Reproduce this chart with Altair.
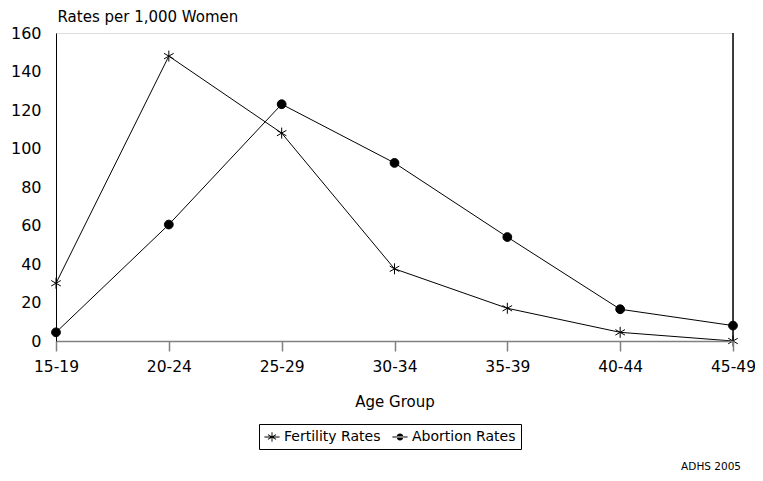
import math
import altair as alt
import pandas as pd

ages = ["15-19", "20-24", "25-29", "30-34", "35-39", "40-44", "45-49"]
fertility = [30, 148, 108, 37.5, 17, 4.5, 0]
abortion = [4.5, 60.5, 123, 92.5, 54, 16.5, 8]
series_names = ["Fertility Rates", "Abortion Rates"]
y_ticks = [0, 20, 40, 60, 80, 100, 120, 140, 160]

rows = []
for a, f, b in zip(ages, fertility, abortion):
    rows.append({"age": a, "series": series_names[0], "rate": f})
    rows.append({"age": a, "series": series_names[1], "rate": b})
df = pd.DataFrame(rows)

W, H = 677, 308
LEFT = 48
FONT = "DejaVu Sans"


def ray(angle_deg, half_len, half_w):
    t = math.radians(angle_deg)
    dx, dy = math.cos(t), math.sin(t)
    nx, ny = -dy, dx
    pts = [
        (half_len * dx + half_w * nx, half_len * dy + half_w * ny),
        (half_len * dx - half_w * nx, half_len * dy - half_w * ny),
        (-half_len * dx - half_w * nx, -half_len * dy - half_w * ny),
        (-half_len * dx + half_w * nx, -half_len * dy + half_w * ny),
    ]
    return "M" + "L".join(f"{px:.3f},{py:.3f}" for px, py in pts) + "Z"


star = "M0,-1L0,1M-0.87,-0.5L0.87,0.5M-0.87,0.5L0.87,-0.5"
dot = "M0.8,0A0.8,0.8 0 1 1 -0.8,0A0.8,0.8 0 1 1 0.8,0Z"
leg_line = ray(0, 1.0, 0.05)
leg_star = leg_line + ray(90, 0.62, 0.06) + ray(30, 0.62, 0.06) + ray(150, 0.62, 0.06)
leg_dot = leg_line + "M0.45,0A0.45,0.45 0 1 1 -0.45,0A0.45,0.45 0 1 1 0.45,0Z"

x = alt.X(
    "age:N",
    sort=ages,
    scale=alt.Scale(type="point", padding=0),
    axis=alt.Axis(
        title="Age Group",
        labelAngle=0,
        domainColor="#808080",
        domainWidth=1.5,
        tickColor="#808080",
        tickWidth=1.5,
        tickSize=10,
        labelPadding=8,
        labelFont=FONT,
        labelFontSize=15.5,
        labelColor="black",
        titleFont=FONT,
        titleFontSize=15,
        titleFontWeight="normal",
        titleColor="black",
        titlePadding=20,
        zindex=1,
    ),
)
y = alt.Y(
    "rate:Q",
    scale=alt.Scale(domain=[0, 160]),
    axis=alt.Axis(
        values=y_ticks,
        grid=False,
        tickSize=0,
        domainColor="black",
        domainWidth=1,
        labelPadding=15,
        labelFont=FONT,
        labelFontSize=16,
        labelColor="black",
        title="Rates per 1,000 Women",
        titleAngle=0,
        titleX=1,
        titleY=-12,
        titleAlign="left",
        titleBaseline="alphabetic",
        titleFont=FONT,
        titleFontSize=15,
        titleFontWeight="normal",
        titleColor="black",
        zindex=1,
    ),
)

base = alt.Chart(df)

lines = base.mark_line(color="black", strokeWidth=1).encode(
    x=x, y=y, detail="series:N"
)

fert_pts = base.transform_filter(alt.datum.series == series_names[0]).mark_point(
    shape=star, filled=False, stroke="black", strokeWidth=1, opacity=1, size=121
).encode(x=x, y=y)

abort_pts = base.transform_filter(alt.datum.series == series_names[1]).mark_point(
    shape=dot, filled=True, fill="black", stroke="black", strokeWidth=1, opacity=1, size=121
).encode(x=x, y=y)

legend_layer = base.mark_point(
    filled=True, color="black", size=0
).encode(
    x=x,
    y=y,
    shape=alt.Shape(
        "series:N",
        scale=alt.Scale(domain=series_names, range=[leg_star, leg_dot]),
        legend=alt.Legend(
            title=None,
            orient="none",
            legendX=259 - 8 - LEFT,
            legendY=391,
            direction="horizontal",
            strokeColor="black",
            fillColor="white",
            padding=5,
            labelFont=FONT,
            labelFontSize=14,
            labelColor="black",
            labelOffset=4,
            columnPadding=11,
            symbolSize=230,
            symbolFillColor="black",
            symbolStrokeColor="black",
            symbolStrokeWidth=0,
            symbolOpacity=1,
        ),
    ),
)

frame_df = pd.DataFrame({"k": [0]})
right_border = alt.Chart(frame_df).mark_rule(color="black", strokeWidth=1.5).encode(
    x=alt.value(W), y=alt.value(0), y2=alt.value(H)
)

source = alt.Chart(frame_df).mark_text(
    text="ADHS 2005", font=FONT, fontSize=10.5, align="right", baseline="middle", color="black"
).encode(x=alt.value(W + 8), y=alt.value(434))

chart = (
    alt.layer(lines, fert_pts, abort_pts, legend_layer, right_border, source)
    .properties(
        width=W,
        height=H,
        autosize=alt.AutoSizeParams(type="none"),
        padding={"left": LEFT, "top": 25, "right": 747 - LEFT - W, "bottom": 130},
    )
    .configure_view(stroke="#808080", strokeWidth=2)
    .configure(background="white")
)

chart.save("out.html", embed_options={"renderer": "svg", "actions": False})
